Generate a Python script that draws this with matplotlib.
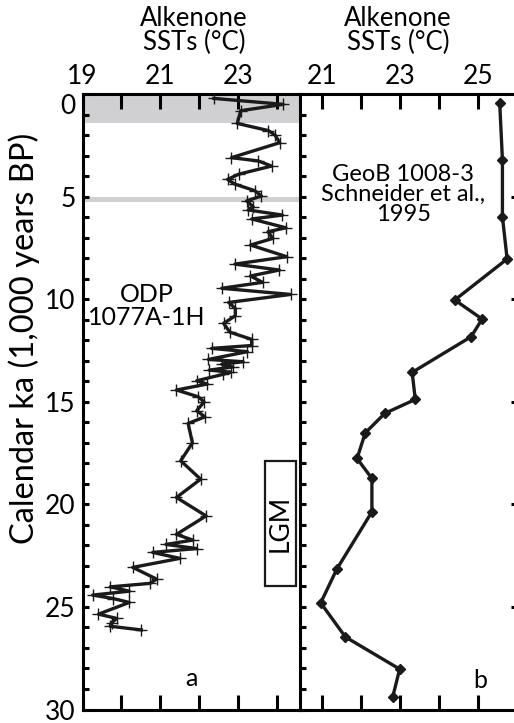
import matplotlib
matplotlib.use("Agg")
import matplotlib.pyplot as plt
from matplotlib.patches import Rectangle

plt.rcParams['font.family'] = ['Lato', 'DejaVu Sans']

# Panel a: ODP 1077A-1H
age_a = [0.20, 0.49, 0.80, 1.42, 1.77, 1.99, 2.36, 3.09, 3.25, 3.50, 3.89, 4.15, 4.38,
         4.70, 4.96, 5.20, 5.48, 5.64, 5.89, 6.08, 6.51, 6.70, 7.03, 7.35, 7.92, 8.28,
         8.57, 8.86, 9.17, 9.46, 9.76, 10.15, 10.44, 10.80, 11.17, 11.60, 11.95, 12.25,
         12.39, 12.55, 12.93, 13.04, 13.16, 13.30, 13.45, 13.55, 13.66, 13.97, 14.13,
         14.42, 14.75, 15.00, 15.43, 15.73, 16.05, 17.00, 17.87, 18.77, 19.66, 20.56,
         21.46, 21.74, 21.95, 22.15, 22.34, 22.63, 23.07, 23.64, 23.85, 24.02, 24.23,
         24.42, 24.59, 24.78, 25.35, 25.56, 25.76, 25.94, 26.12]
sst_a = [22.37, 24.15, 23.06, 22.97, 23.77, 23.94, 24.06, 22.82, 23.51, 23.85, 23.02, 22.72, 22.91,
         23.42, 23.59, 23.21, 23.38, 23.25, 24.13, 23.34, 24.22, 23.76, 23.88, 23.31, 24.24, 22.91,
         24.05, 23.31, 23.62, 22.57, 24.34, 22.75, 22.92, 22.92, 22.62, 22.78, 23.34, 23.34,
         22.31, 23.23, 22.23, 23.12, 22.57, 22.85, 22.25, 22.80, 22.60, 21.93, 22.20,
         21.41, 21.97, 22.12, 21.93, 22.14, 21.71, 21.82, 21.52, 22.03, 21.41, 22.17,
         21.41, 21.83, 21.14, 21.93, 20.80, 21.50, 20.29, 20.90, 20.73, 19.71, 20.20,
         19.26, 19.79, 20.20, 19.41, 19.88, 19.75, 19.71, 20.51]

# Panel b: GeoB 1008-3
age_b = [0.41, 3.20, 5.97, 8.03, 10.03, 10.96, 11.82, 13.56, 14.88, 15.56, 16.51, 17.76,
         18.73, 20.36, 23.16, 24.80, 26.46, 28.03, 29.41]
sst_b = [25.55, 25.62, 25.62, 25.74, 24.40, 25.10, 24.82, 23.31, 23.39, 22.61, 22.11, 21.90,
         22.28, 22.28, 21.38, 20.97, 21.60, 22.99, 22.81]

shade_bands = [(0.0, 1.4), (5.0, 5.25)]
lgm = (17.9, 24.0)

W, H = 514, 723
fig = plt.figure(figsize=(W / 100, H / 100), dpi=100)

def fx(px):
    return px / W

def fy(py):
    return 1 - py / H

top, bot = 94.3, 709.5
axa = fig.add_axes([fx(82.5), fy(bot), fx(300 - 82.5), fy(top) - fy(bot)])
axb = fig.add_axes([fx(300), fy(bot), fx(516.5 - 300), fy(top) - fy(bot)])

LW_SP = 2.2
for ax in (axa, axb):
    for s in ax.spines.values():
        s.set_linewidth(LW_SP)
    ax.set_ylim(30, 0)
    ax.set_facecolor('none')

axa.set_xlim(19, 24.58)
axb.set_xlim(20.44, 25.98)
axa.spines['right'].set_visible(False)

# shading
for y0, y1 in shade_bands:
    axa.axhspan(y0, y1, color='#d0d0d2', lw=0, zorder=0)

# data
axa.plot(sst_a, age_a, color='#1a1a1a', lw=2.4, marker='+', ms=9, mew=1.0, zorder=3)
axb.plot(sst_b, age_b, color='#1a1a1a', lw=2.4, marker='D', ms=5.5, zorder=3)

TS = 19
# ticks panel a
axa.set_xticks([19, 20, 21, 22, 23, 24])
axa.set_xticklabels(['19', '', '21', '', '23', ''])
axa.tick_params(axis='x', which='both', top=True, bottom=True, labeltop=True,
                labelbottom=False, direction='in', length=11, width=2.2, labelsize=TS, pad=4)
axa.set_yticks(range(0, 31, 5))
axa.set_yticks(range(0, 31), minor=True)
axa.tick_params(axis='y', which='both', left=True, right=False, direction='in',
                length=4.5, width=2.2, labelsize=TS, pad=5)
for lab in axa.get_yticklabels():
    lab.set_verticalalignment('top' if lab.get_text() == '0' else 'center_baseline')

# ticks panel b
axb.set_xticks([21, 22, 23, 24, 25])
axb.set_xticklabels(['21', '', '23', '', '25'])
axb.tick_params(axis='x', which='both', top=True, bottom=True, labeltop=True,
                labelbottom=False, direction='in', length=11, width=2.2, labelsize=TS, pad=4)
axb.set_yticks(range(5, 30, 5))
axb.set_yticks(range(0, 31), minor=True)
axb.tick_params(axis='y', which='minor', left=True, right=False, direction='in',
                length=4.5, width=2.2)
axb.tick_params(axis='y', which='major', left=True, right=True, labelleft=False,
                direction='in', length=4.5, width=2.2)

# titles
for ax, cx in ((axa, 194), (axb, 398)):
    fig.text(fx(cx), fy(6), 'Alkenone\nSSTs (°C)', ha='center', va='top',
             fontsize=18.5, linespacing=0.95)

fig.text(fx(24), fy(338), 'Calendar ka (1,000 years BP)', rotation=90,
         ha='center', va='center', fontsize=23.5)

axa.text(20.65, 10.3, 'ODP\n1077A-1H', ha='center', va='center', fontsize=18,
         linespacing=1.0)
axb.text(23.08, 4.9, 'GeoB 1008-3\nSchneider et al.,\n1995', ha='center', va='center',
         fontsize=17, linespacing=0.95)
axa.text(21.8, 28.5, 'a', ha='center', va='center', fontsize=18)
axb.text(25.06, 28.6, 'b', ha='center', va='center', fontsize=18)

# LGM box
axa.add_patch(Rectangle((23.67, lgm[0]), 0.82, lgm[1] - lgm[0], fill=False,
                        lw=1.6, ec='#1a1a1a', zorder=4))
axa.text(24.08, (lgm[0] + lgm[1]) / 2, 'LGM', rotation=90, ha='center', va='center',
         fontsize=19)

fig.savefig('out.png', dpi=100)
